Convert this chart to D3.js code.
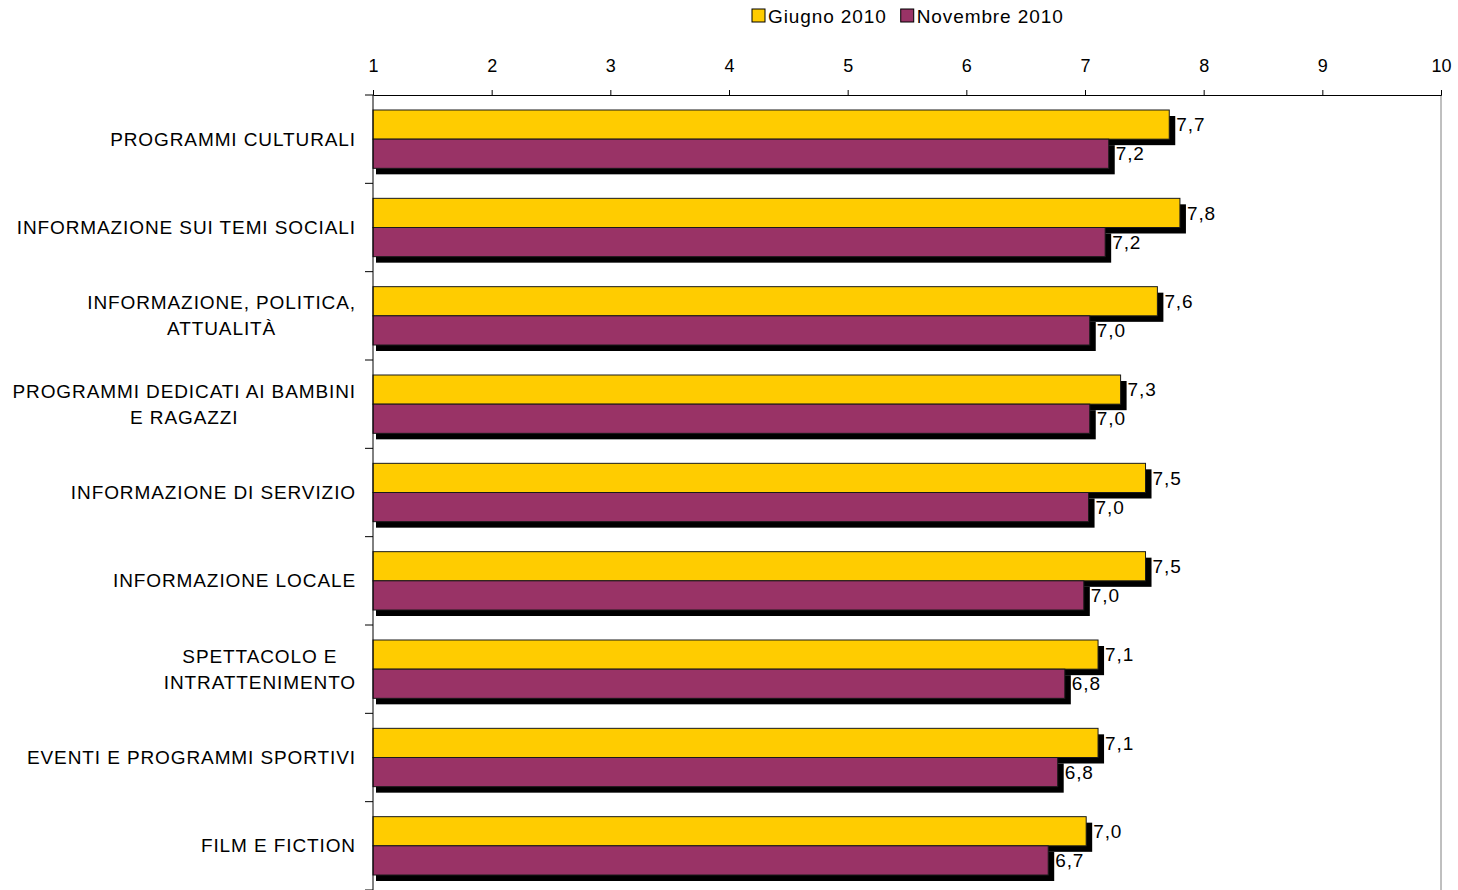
<!DOCTYPE html>
<html>
<head>
<meta charset="utf-8">
<script src="https://cdn.jsdelivr.net/npm/d3@7"></script>
<style>
  body { margin: 0; background: #fff; }
  text { font-family: "Liberation Sans", Arial, sans-serif; fill: #000; }
  .lbl { font-size: 19px; letter-spacing: 0.9px; }
</style>
</head>
<body>
<svg id="chart" width="1458" height="890"></svg>
<script>
var categories = [
  ["PROGRAMMI CULTURALI"],
  ["INFORMAZIONE SUI TEMI SOCIALI"],
  ["INFORMAZIONE, POLITICA,", "ATTUALITÀ"],
  ["PROGRAMMI DEDICATI AI BAMBINI", "E RAGAZZI"],
  ["INFORMAZIONE DI SERVIZIO"],
  ["INFORMAZIONE LOCALE"],
  ["SPETTACOLO E", "INTRATTENIMENTO"],
  ["EVENTI E PROGRAMMI SPORTIVI"],
  ["FILM E FICTION"]
];
var seriesNames = ["Giugno 2010", "Novembre 2010"];
var seriesColors = ["#FFCC00", "#993366"];
var giugno = [7.71, 7.80, 7.61, 7.30, 7.51, 7.51, 7.11, 7.11, 7.01];
var novembre = [7.20, 7.17, 7.04, 7.04, 7.03, 6.99, 6.83, 6.77, 6.69];
var xTicks = [1, 2, 3, 4, 5, 6, 7, 8, 9, 10];

var svg = d3.select("#chart");
var keys = categories.map(function(c) { return c.join(" "); });

var x = d3.scaleLinear().domain([1, 10]).range([373, 1441]);
var y = d3.scaleBand().domain(keys).range([95, 890]);
var inner = d3.scaleBand().domain(seriesNames).range([15, y.bandwidth() - 15]);
var fmt = function(v) { return d3.format(".1f")(v).replace(".", ","); };

var rows = keys.map(function(k, i) {
  return {key: k, lines: categories[i], values: [giugno[i], novembre[i]]};
});

// right border of plot area
svg.append("line")
  .attr("x1", x(10)).attr("x2", x(10))
  .attr("y1", y.range()[0]).attr("y2", y.range()[1])
  .attr("stroke", "#808080").attr("stroke-width", 1);

// top axis
var xAxis = d3.axisTop(x).tickValues(xTicks).tickSize(5).tickPadding(18).tickFormat(d3.format("d"));
var gx = svg.append("g")
  .attr("transform", "translate(0," + y.range()[0] + ")")
  .call(xAxis);
gx.select(".domain").attr("stroke", "#000");
gx.selectAll(".tick line").attr("stroke", "#000");
gx.selectAll(".tick text")
  .style("font-family", "'Liberation Sans', Arial, sans-serif")
  .style("font-size", "18px")
  .attr("fill", "#000");

// bars
var groups = svg.selectAll(".cat")
  .data(rows)
  .enter().append("g")
  .attr("class", "cat")
  .attr("transform", function(d) { return "translate(0," + y(d.key) + ")"; });

seriesNames.forEach(function(s, si) {
  groups.append("rect")
    .attr("x", x(1) + 3)
    .attr("y", inner(s) + 6)
    .attr("width", function(d) { return x(d.values[si]) - x(1) + 3; })
    .attr("height", inner.bandwidth())
    .attr("fill", "#000");
  groups.append("rect")
    .attr("x", x(1))
    .attr("y", inner(s))
    .attr("width", function(d) { return x(d.values[si]) - x(1); })
    .attr("height", inner.bandwidth())
    .attr("fill", seriesColors[si])
    .attr("stroke", "#1a1a1a")
    .attr("stroke-width", 1);
});

seriesNames.forEach(function(s, si) {
  groups.append("text")
    .attr("class", "lbl")
    .attr("x", function(d) { return x(d.values[si]) + 7; })
    .attr("y", inner(s) + inner.bandwidth() / 2)
    .attr("dy", "0.35em")
    .text(function(d) { return fmt(d.values[si]); });
});

// left axis
var gy = svg.append("g");
gy.append("line")
  .attr("x1", x(1)).attr("x2", x(1))
  .attr("y1", y.range()[0]).attr("y2", y.range()[1])
  .attr("stroke", "#000");
var bounds = keys.map(function(k) { return y(k); }).concat([y.range()[1]]);
gy.selectAll(".bt")
  .data(bounds)
  .enter().append("line")
  .attr("x1", x(1) - 8).attr("x2", x(1))
  .attr("y1", function(d) { return d; }).attr("y2", function(d) { return d; })
  .attr("stroke", "#000");

// category labels
var labelRight = 356, lineH = 26;
groups.each(function(d) {
  var g = d3.select(this);
  var t = g.append("text")
    .attr("class", "lbl")
    .attr("text-anchor", "middle");
  var n = d.lines.length;
  d.lines.forEach(function(line, li) {
    t.append("tspan")
      .attr("y", y.bandwidth() / 2 + (li - (n - 1) / 2) * lineH)
      .attr("dy", "0.35em")
      .text(line);
  });
  var maxW = 0;
  t.selectAll("tspan").each(function() {
    maxW = Math.max(maxW, this.getComputedTextLength());
  });
  t.selectAll("tspan").attr("x", labelRight - maxW / 2);
});

// legend
var legend = svg.append("g").attr("transform", "translate(752,9)");
var lx = 0;
seriesNames.forEach(function(s, si) {
  var item = legend.append("g").attr("transform", "translate(" + lx + ",0)");
  item.append("rect")
    .attr("width", 13).attr("height", 13)
    .attr("fill", seriesColors[si])
    .attr("stroke", "#000");
  var tx = item.append("text")
    .attr("class", "lbl")
    .attr("x", 16).attr("y", 7).attr("dy", "0.35em")
    .text(s);
  lx += 16 + tx.node().getComputedTextLength() + 14;
});
</script>
</body>
</html>
